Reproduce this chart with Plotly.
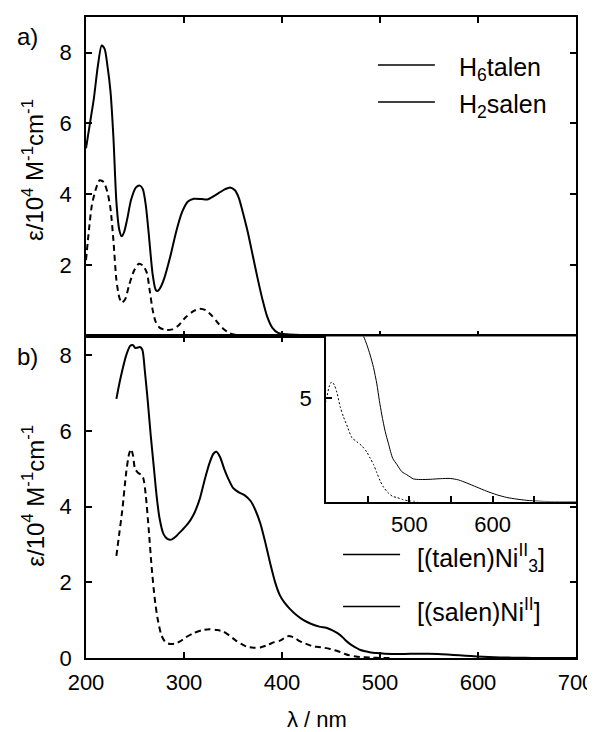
import plotly.graph_objects as go

# ---------------- data (values in 10^4 M^-1 cm^-1) ----------------
h6talen_x = [200, 204, 208, 212, 216, 219, 222, 225, 228, 231, 234, 236.5, 239, 242, 246, 251, 255, 258, 261, 264,
             268, 271, 273, 276, 280, 286, 292, 298, 304, 310, 318, 324, 330, 336, 342, 347, 352, 356, 360, 365,
             370, 375, 380, 385, 390, 396, 405, 420, 450, 500, 700]
h6talen_y = [5.3, 6.0, 6.7, 7.6, 8.2, 8.1, 7.6, 6.9, 5.6, 3.8, 3.0, 2.82, 2.95, 3.3, 3.85, 4.2, 4.25, 4.15, 3.7, 2.9,
             1.75, 1.32, 1.28, 1.38, 1.65, 2.25, 2.95, 3.5, 3.8, 3.88, 3.87, 3.86, 3.95, 4.05, 4.15, 4.2, 4.12, 3.9, 3.5, 2.95,
             2.3, 1.65, 1.05, 0.55, 0.25, 0.1, 0.06, 0.04, 0.02, 0.0, 0.0]

h2salen_x = [200, 203, 206, 210, 214, 218, 222, 225, 228, 231, 234, 236.5, 240, 244, 249, 254, 258, 262, 265, 268,
             271, 275, 282, 288, 294, 302, 310, 316, 322, 328, 334, 340, 347, 355, 362]
h2salen_y = [2.15, 3.0, 3.7, 4.15, 4.4, 4.35, 4.05, 3.6, 2.7, 1.6, 1.1, 0.95, 1.05, 1.45, 1.85, 2.05, 2.0, 1.8, 1.3, 0.75,
             0.42, 0.25, 0.18, 0.2, 0.3, 0.55, 0.72, 0.78, 0.74, 0.6, 0.4, 0.22, 0.09, 0.03, 0.0]

talen_ni_x = [231, 234, 237, 241, 245, 248, 250, 252, 255, 257.5, 260, 263, 266, 269, 272, 275, 279, 283, 287, 292,
              298, 304, 310, 316, 321, 326, 330, 333, 337, 341, 345, 350, 356, 362, 368, 373, 378, 383, 388, 393,
              398, 403, 408, 415, 422, 430, 438, 445, 449, 453, 457, 461, 464, 467, 471, 475, 480, 485, 491, 497,
              505, 513, 525, 537, 549, 559, 569, 581, 593, 605, 617, 629, 641, 655, 670, 700]
talen_ni_y = [6.85, 7.25, 7.6, 8.0, 8.25, 8.27, 8.2, 8.2, 8.22, 8.15, 7.6, 6.8, 5.9, 5.1, 4.3, 3.7, 3.28, 3.15, 3.13, 3.22,
              3.38, 3.55, 3.8, 4.2, 4.7, 5.15, 5.4, 5.45, 5.3, 5.0, 4.75, 4.5, 4.38, 4.3, 4.15, 3.9, 3.55, 3.05, 2.5, 2.0,
              1.65, 1.45, 1.3, 1.13, 1.0, 0.9, 0.83, 0.8, 0.76, 0.71, 0.65, 0.57, 0.49, 0.42, 0.34, 0.28, 0.21, 0.18, 0.145, 0.13,
              0.11, 0.107, 0.108, 0.111, 0.112, 0.105, 0.09, 0.07, 0.05, 0.033, 0.02, 0.012, 0.006, 0.002, 0.0, 0.0]

salen_ni_x = [231, 234, 237, 241, 244, 246, 248, 250, 253, 256, 258.5, 261, 264, 267, 270, 273, 277, 281, 286, 291,
              296, 302, 310, 318, 326, 334, 340, 346, 352, 358, 364, 371, 378, 385, 392, 398, 401, 404, 407, 410,
              413, 417, 421, 426, 431, 437, 443, 449, 453, 457, 461, 465, 469, 474, 480, 485, 492, 500, 510]
salen_ni_y = [2.7, 3.3, 3.9, 4.9, 5.4, 5.52, 5.35, 5.0, 4.9, 4.85, 4.75, 4.3, 3.4, 2.4, 1.6, 1.05, 0.6, 0.42, 0.37, 0.38,
              0.44, 0.55, 0.66, 0.73, 0.76, 0.74, 0.7, 0.6, 0.48, 0.38, 0.3, 0.27, 0.28, 0.34, 0.42, 0.46, 0.505, 0.56, 0.58, 0.565,
              0.53, 0.46, 0.41, 0.36, 0.31, 0.29, 0.27, 0.24, 0.21, 0.18, 0.14, 0.1, 0.07, 0.045, 0.025, 0.02, 0.01, 0.003, 0.0]

inset_scale = 10  # inset plotted in 10^3 M^-1 cm^-1
inset_min_x = 400

x_ticks = [200, 300, 400, 500, 600, 700]
top_y_ticks = [2, 4, 6, 8]
bot_y_ticks = [0, 2, 4, 6, 8]
inset_x_ticks = [450, 500, 550, 600, 650]
inset_x_labels = ["", "500", "", "600", ""]
inset_y_ticks = [5]

# ---------------- figure ----------------
FONT = "Liberation Sans, Arial, sans-serif"
SPLIT = 0.5016

fig = go.Figure()
main_line = dict(color="black", width=2, shape="spline", smoothing=0.7)
dash_line = dict(color="black", width=2, dash="6px,4px", shape="spline", smoothing=0.7)

fig.add_trace(go.Scatter(x=h6talen_x, y=h6talen_y, mode="lines", line=main_line, xaxis="x2", yaxis="y2"))
fig.add_trace(go.Scatter(x=h2salen_x, y=h2salen_y, mode="lines", line=dash_line, xaxis="x2", yaxis="y2"))
fig.add_trace(go.Scatter(x=talen_ni_x, y=talen_ni_y, mode="lines", line=main_line, xaxis="x", yaxis="y"))
fig.add_trace(go.Scatter(x=salen_ni_x, y=salen_ni_y, mode="lines", line=dash_line, xaxis="x", yaxis="y"))

# inset
ti = [(x, y * inset_scale) for x, y in zip(talen_ni_x, talen_ni_y) if x >= inset_min_x - 10]
si = [(x, y * inset_scale) for x, y in zip(salen_ni_x, salen_ni_y) if x >= inset_min_x - 3]
fig.add_trace(go.Scatter(x=[p[0] for p in ti], y=[p[1] for p in ti], mode="lines",
                         line=dict(color="black", width=1, shape="spline", smoothing=0.7), xaxis="x3", yaxis="y3"))
fig.add_trace(go.Scatter(x=[p[0] for p in si], y=[p[1] for p in si], mode="lines",
                         line=dict(color="black", width=1, dash="2px,2px", shape="spline", smoothing=0.7),
                         xaxis="x3", yaxis="y3"))

axis_common = dict(showline=True, linecolor="black", linewidth=1.5, ticks="inside", ticklen=6, tickwidth=1.5,
                   tickcolor="black", mirror="ticks", showgrid=False, zeroline=False, automargin=False,
                   tickfont=dict(family=FONT, size=22, color="black"))

# page body adds an 8px offset; figure sized to fit inside the 595x732 window
fig.update_layout(
    width=579, height=724,
    margin=dict(l=78, r=11, t=9, b=73.5, autoexpand=False),
    plot_bgcolor="white", paper_bgcolor="white",
    showlegend=False,
    font=dict(family=FONT, color="black"),
    xaxis=dict(axis_common, domain=[0, 1], range=[200, 700], tickvals=x_ticks, anchor="y", ticklabelstandoff=4,
               ticklabeloverflow="allow"),
    yaxis=dict(axis_common, domain=[0, SPLIT], range=[0, 8.5], tickvals=bot_y_ticks, anchor="x", ticklabelstandoff=8),
    xaxis2=dict(axis_common, domain=[0, 1], range=[200, 700], tickvals=x_ticks, anchor="y2", showticklabels=False),
    yaxis2=dict(axis_common, domain=[SPLIT, 1], range=[0, 9], tickvals=top_y_ticks, anchor="x2", ticklabelstandoff=8),
    xaxis3=dict(axis_common, mirror=False, domain=[0.4898, 1], range=[400, 700], tickvals=inset_x_ticks,
                ticktext=inset_x_labels, anchor="y3", ticklabelstandoff=2),
    yaxis3=dict(axis_common, mirror=False, domain=[0.244, SPLIT], range=[0, 8], tickvals=inset_y_ticks,
                anchor="x3", ticklabelstandoff=8),
)

ytitle = "ε/10<sup>4</sup> M<sup>-1</sup>cm<sup>-1</sup>"
annotations = [
    dict(text="a)", x=-0.12, y=0.970, size=24),
    dict(text="b)", x=-0.12, y=0.470, size=24),
    dict(text=ytitle, x=-0.108, y=0.7615, textangle=-90, size=24),
    dict(text=ytitle, x=-0.108, y=0.2533, textangle=-90, size=24),
    dict(text="λ / nm", x=0.471, y=-0.0959, size=22),
]
for a in annotations:
    size = a.pop("size")
    fig.add_annotation(xref="paper", yref="paper", showarrow=False, xanchor="center", yanchor="middle",
                       font=dict(family=FONT, size=size, color="black"), **a)

leg_font = dict(family=FONT, size=25, color="black")
legend_items = [
    ("H<sub>6</sub>talen", 0.596, 0.712, 0.925, 0.757),
    ("H<sub>2</sub>salen", 0.596, 0.712, 0.8675, 0.757),
    ("[(talen)Ni<sup>II</sup><sub>3</sub>]", 0.5245, 0.641, 0.1614, 0.671),
    ("[(salen)Ni<sup>II</sup>]", 0.5245, 0.641, 0.0803, 0.671),
]
for label, x0, x1, yy, xt in legend_items:
    fig.add_shape(type="line", xref="paper", yref="paper", x0=x0, x1=x1, y0=yy, y1=yy,
                  line=dict(color="black", width=1.5))
    fig.add_annotation(xref="paper", yref="paper", showarrow=False, xanchor="left", yanchor="middle",
                       x=xt, y=yy - 0.006, text=label, font=leg_font)

fig.write_html("out.html")
